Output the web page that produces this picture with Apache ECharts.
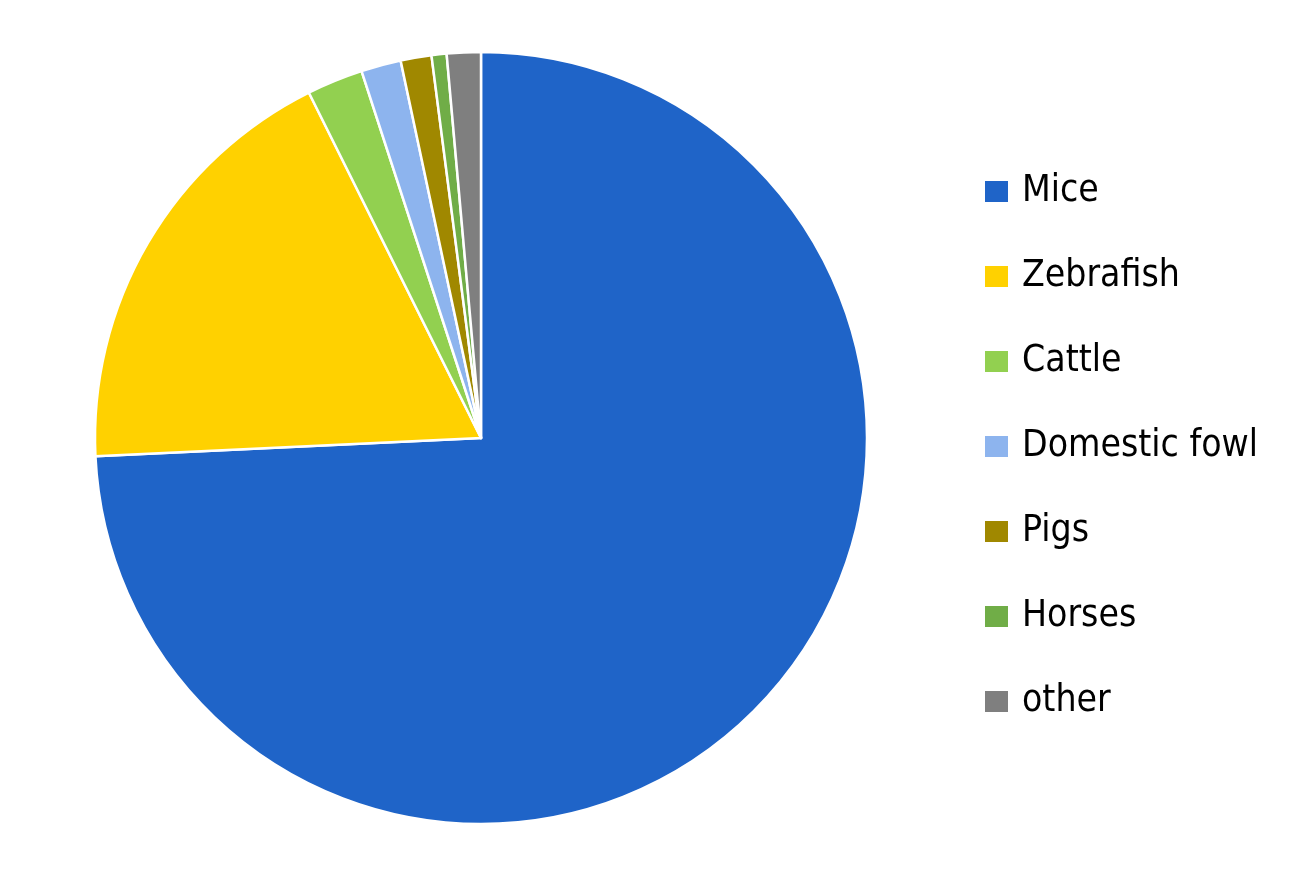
<!DOCTYPE html>
<html>
<head>
<meta charset="utf-8">
<script src="https://cdn.jsdelivr.net/npm/echarts@6/dist/echarts.min.js"></script>
<style>html,body{margin:0;padding:0;background:#fff;}#c{width:1311px;height:876px;}</style>
</head>
<body>
<div id="c"></div>
<script>
const categories = ["Mice", "Zebrafish", "Cattle", "Domestic fowl", "Pigs", "Horses", "other"];
const values = [74.25, 18.4, 2.35, 1.67, 1.29, 0.63, 1.42];
const colors = ["#1F64C8", "#FFD100", "#92D050", "#8DB4EE", "#A08800", "#70AD47", "#7F7F7F"];

const chart = echarts.init(document.getElementById('c'));
chart.setOption({
  animation: false,
  color: colors,
  legend: {
    orient: 'vertical',
    left: 978,
    top: 168,
    itemWidth: 25,
    itemHeight: 23,
    itemGap: 48,
    icon: 'rect',
    data: categories,
    textStyle: {
      fontFamily: 'DejaVu Sans Condensed, DejaVu Sans',
      fontSize: 37,
      color: '#000',
      padding: [0, 0, 0, 8]
    }
  },
  series: [{
    type: 'pie',
    center: [481, 438],
    radius: 386,
    startAngle: 90,
    clockwise: true,
    label: { show: false },
    labelLine: { show: false },
    itemStyle: { borderColor: '#fff', borderWidth: 2.5 },
    emphasis: { disabled: true },
    data: categories.map((n, i) => ({ name: n, value: values[i] }))
  }]
});
</script>
</body>
</html>
